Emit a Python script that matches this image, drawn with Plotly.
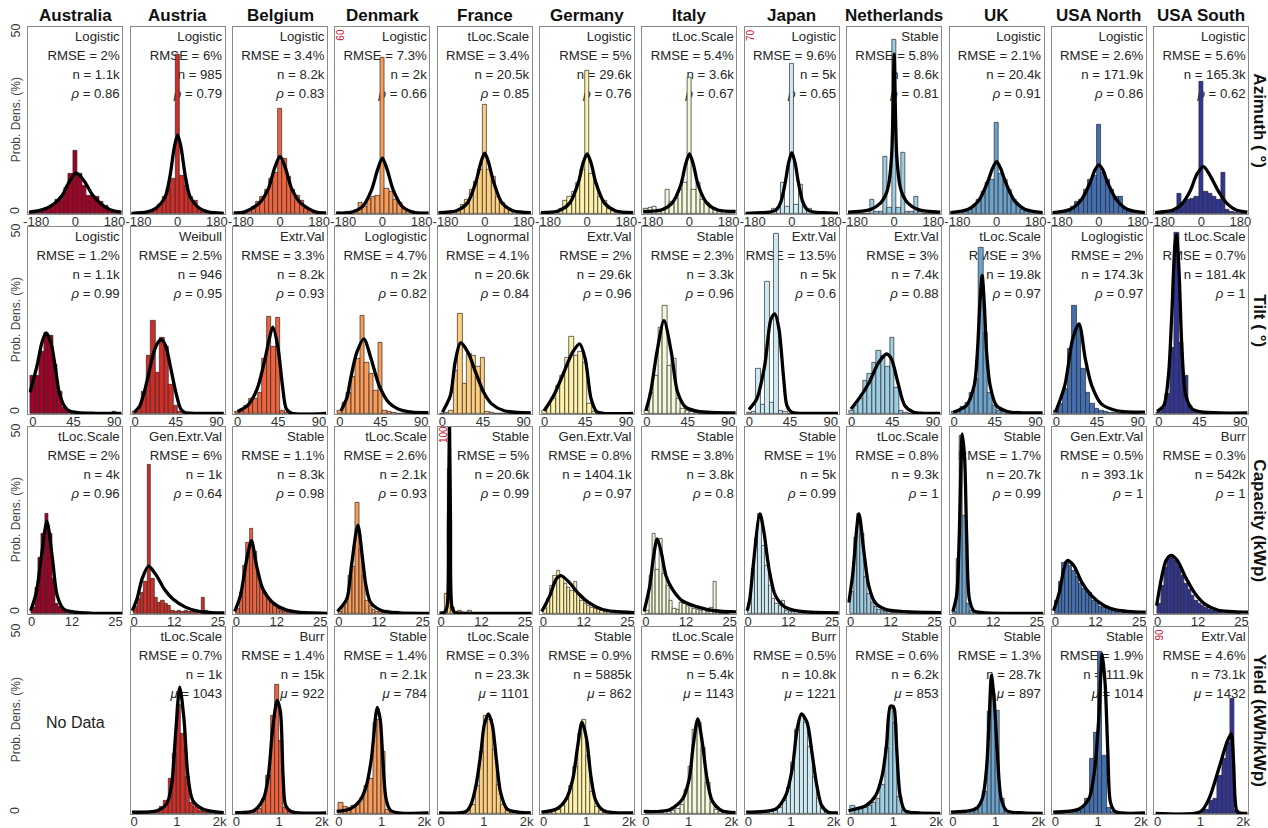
import plotly.graph_objects as go

# ---------------- data ----------------
COUNTRIES = ["Australia", "Austria", "Belgium", "Denmark", "France", "Germany",
             "Italy", "Japan", "Netherlands", "UK", "USA North", "USA South"]
COLORS = ["#A50026", "#D22C27", "#EF623E", "#FA9C59", "#FECE7F", "#FEF1AA",
          "#F1F9D9", "#CDE9F2", "#9CCDE2", "#6BA3CC", "#436FB1", "#313695"]
ROW_LABELS = ["Azimuth ( °)", "Tilt ( °)", "Capacity (kWp)", "Yield (kWh/kWp)"]

# bin centres (one list per row)
AZ_CENTERS = [-200, -180, -160, -140, -120, -100, -80, -60, -40, -20, 0, 20, 40, 60, 80, 100, 120, 140, 160, 180, 200]
TILT_CENTERS = [0, 5, 10, 15, 20, 25, 30, 35, 40, 45, 50, 55, 60, 65, 70, 75, 80, 85, 90]
CAP_CENTERS = [0.5, 1.5, 2.5, 3.5, 4.5, 5.5, 6.5, 7.5, 8.5, 9.5, 10.5, 11.5, 12.5, 13.5, 14.5,
               15.5, 16.5, 17.5, 18.5, 19.5, 20.5, 21.5, 22.5, 23.5, 24.5]
YIELD_CENTERS = [50, 150, 250, 350, 450, 550, 650, 750, 850, 950, 1050, 1150, 1250, 1350,
                 1450, 1550, 1650, 1750, 1850, 1950]

# histogram heights (%)
AZ_BARS = {
    "Australia":   [0.4, 0.5, 0.7, 0.9, 1.5, 2.5, 3.7, 4.5, 7.0, 11.0, 17.3, 11.0, 7.5, 5.0, 5.0, 4.5, 3.2, 2.0, 1.1, 0.6, 0.4],
    "Austria":     [0, 0, 0, 0.3, 0.5, 1.0, 2.5, 4.5, 7.0, 9.7, 43.8, 10.3, 7.5, 4.5, 3.5, 1.2, 0.5, 0.2, 0, 0, 0],
    "Belgium":     [0.1, 0.2, 0.4, 0.9, 1.8, 3.2, 4.6, 6.5, 9.5, 11.1, 29.0, 15.2, 10.0, 6.5, 5.0, 3.4, 1.4, 0.7, 0.4, 0.2, 0.1],
    "Denmark":     [0.2, 0.3, 0.5, 0.5, 1.0, 3.5, 2.2, 5.0, 5.5, 6.0, 51.5, 8.0, 7.2, 4.4, 3.5, 1.5, 1.0, 0.5, 0.3, 0.2, 0.1],
    "France":      [0.1, 0.2, 0.3, 0.5, 1.0, 2.3, 3.7, 6.5, 8.8, 12.0, 29.9, 12.0, 10.0, 4.5, 3.0, 1.5, 0.8, 0.4, 0.2, 0.1, 0.1],
    "Germany":     [0.1, 0.2, 0.3, 0.5, 1.2, 3.4, 4.6, 6.0, 8.5, 12.0, 39.5, 11.0, 8.3, 4.6, 3.4, 1.2, 0.6, 0.3, 0.2, 0.1, 0.1],
    "Italy":       [1.4, 1.6, 1.8, 1.0, 1.0, 6.5, 3.2, 4.0, 6.5, 8.5, 37.6, 6.5, 8.5, 3.7, 3.0, 1.6, 1.2, 0.8, 0.5, 0.3, 0.2],
    "Japan":       [0, 0, 0, 0.2, 0.3, 0.7, 1.9, 2.2, 11.9, 2.6, 58.0, 3.2, 11.0, 2.6, 1.9, 0.7, 0.3, 0.2, 0, 0, 0],
    "Netherlands": [0, 0, 0, 0, 0, 3.7, 0.3, 0.3, 15.7, 1.5, 48.0, 1.5, 16.8, 0.5, 0.3, 4.6, 0.3, 0, 0, 0, 0],
    "UK":          [0.1, 0.2, 0.4, 0.8, 1.2, 2.3, 3.7, 6.0, 8.5, 9.2, 25.1, 11.0, 9.2, 6.5, 3.7, 2.3, 1.1, 0.6, 0.3, 0.2, 0.1],
    "USA North":   [0.1, 0.2, 0.4, 0.8, 1.8, 3.2, 3.7, 6.6, 9.2, 10.3, 24.4, 11.1, 9.2, 6.6, 4.6, 4.6, 1.4, 0.6, 0.3, 0.2, 0.1],
    "USA South":   [0, 0, 0.1, 0.3, 0.6, 5.5, 2.8, 3.7, 3.9, 4.6, 36.4, 6.0, 5.3, 4.6, 3.7, 11.3, 0.9, 0.3, 0.1, 0, 0],
}
TILT_BARS = {
    "Australia":   [10.4, 10.4, 17.0, 22.4, 21.5, 13.5, 6.0, 1.5, 0.6, 0.3, 0, 0, 0, 0, 0, 0, 0, 0, 0.5],
    "Austria":     [0.5, 1.5, 6.0, 16.0, 25.6, 11.2, 20.8, 18.3, 8.0, 2.0, 0.3, 0, 0, 0, 0, 0, 0, 0, 0],
    "Belgium":     [0.3, 0.5, 2.1, 4.0, 4.0, 5.8, 15.0, 26.6, 18.3, 26.3, 0.7, 0.2, 0, 0, 0, 0, 0, 0, 0],
    "Denmark":     [0.7, 3.0, 5.8, 10.0, 15.0, 27.0, 14.1, 10.9, 6.3, 19.5, 0.7, 0.3, 0.2, 0, 0, 0, 0, 0, 0],
    "France":      [0, 0.2, 0.6, 11.8, 27.5, 8.1, 16.4, 16.0, 13.0, 15.5, 0.5, 0.2, 0, 0, 0, 0, 0, 0, 0],
    "Germany":     [0.7, 2.1, 4.0, 7.7, 10.4, 15.5, 21.3, 16.0, 17.0, 14.0, 2.6, 0.3, 0, 0, 0, 0, 0, 0, 0],
    "Italy":       [0.7, 5.8, 10.4, 23.8, 29.8, 13.2, 15.0, 4.0, 1.2, 0.7, 0.4, 0.2, 0, 0, 0, 0, 0, 0, 0],
    "Japan":       [0.2, 0.5, 12.3, 2.5, 36.4, 3.0, 49.6, 0.7, 0.3, 0, 0, 0, 0, 0, 0, 0, 0, 0, 0],
    "Netherlands": [0.7, 2.1, 4.0, 9.0, 10.9, 14.1, 17.3, 16.0, 13.0, 20.8, 7.0, 0.7, 0.2, 0, 0, 0, 0, 0, 0],
    "UK":          [0.3, 0.6, 1.7, 3.0, 5.8, 9.5, 45.7, 22.4, 5.8, 2.1, 0.7, 0.3, 0, 0, 0, 0, 0, 0, 0],
    "USA North":   [0.7, 2.6, 6.7, 17.8, 29.8, 24.3, 12.3, 5.8, 2.6, 1.2, 0.6, 0.3, 0.2, 0.1, 0, 0, 0, 0, 0],
    "USA South":   [0.2, 1.2, 5.4, 18.0, 49.9, 19.6, 10.4, 2.1, 0.5, 0.2, 0, 0, 0, 0, 0, 0, 0, 0, 0],
}
CAP_BARS = {
    "Australia":   [1.5, 7.0, 15.5, 22.0, 27.5, 22.0, 9.5, 2.6, 1.7, 0.7, 0.3, 0, 0, 0, 0, 0, 0, 0, 0, 0, 0, 0, 0, 0, 0],
    "Austria":     [1.7, 4.0, 5.8, 8.6, 41.0, 9.5, 4.4, 3.0, 3.5, 2.6, 2.1, 0.7, 0.5, 0.7, 0.5, 0.7, 0.5, 0.5, 0.4, 0.3, 4.4, 0.7, 0.2, 0, 0],
    "Belgium":     [1.2, 5.8, 13.2, 19.6, 23.5, 16.9, 10.9, 7.2, 5.8, 4.4, 3.2, 2.1, 1.2, 0.7, 0.5, 0.4, 0.3, 0.2, 0.2, 0.1, 0.1, 0.1, 0, 0, 0],
    "Denmark":     [0.5, 1.7, 3.0, 10.4, 13.0, 30.5, 17.8, 10.4, 3.5, 2.1, 1.0, 0.5, 0.3, 0.5, 0.7, 0.3, 0.2, 0.5, 0, 0, 0, 0, 0, 0, 0],
    "France":      [0.5, 11.0, 80.0, 3.0, 0.5, 1.2, 0.3, 0.3, 1.2, 0, 0, 0, 0, 0, 0, 0, 0, 0, 0, 0, 0, 0, 0, 0, 0],
    "Germany":     [1.2, 4.0, 7.7, 10.4, 11.8, 10.0, 8.1, 7.0, 6.3, 8.6, 5.4, 3.5, 2.6, 2.1, 1.5, 1.2, 0.9, 0.7, 0.5, 0.4, 0.3, 0.2, 0.2, 0.1, 0.1],
    "Italy":       [0.7, 10.4, 22.0, 12.0, 20.6, 11.0, 7.7, 3.5, 1.2, 1.0, 3.0, 2.6, 2.1, 1.7, 1.2, 0.9, 0.7, 1.0, 0.5, 1.5, 8.6, 0.7, 0, 0, 0],
    "Japan":       [2.6, 12.3, 20.6, 27.5, 18.7, 13.2, 7.7, 4.0, 2.6, 2.1, 3.5, 0.7, 0.5, 0.4, 0.3, 0.2, 0.2, 0.1, 0.1, 0, 0, 0, 0, 0, 0],
    "Netherlands": [6.0, 21.0, 27.5, 22.0, 10.0, 5.4, 3.0, 1.7, 1.0, 0.6, 0.4, 0.3, 0.2, 0.2, 0.7, 0.1, 0.1, 0, 0, 0, 0, 0, 0, 0, 0],
    "UK":          [0.5, 15.0, 49.2, 27.0, 2.6, 0.7, 0.3, 0.2, 0.1, 0.1, 0, 0, 0, 0, 0, 0, 0, 0, 0, 0, 0, 0, 0, 0, 0],
    "USA North":   [3.5, 8.6, 14.1, 14.3, 13.2, 11.8, 10.0, 8.1, 6.7, 5.8, 5.8, 3.5, 2.6, 1.9, 1.5, 1.2, 0.9, 0.7, 0.5, 0.4, 0.3, 0.2, 0.2, 0.1, 0.1],
    "USA South":   [2.6, 7.7, 12.5, 15.5, 16.0, 14.6, 12.8, 10.5, 8.3, 6.4, 4.8, 3.6, 2.7, 2.0, 1.5, 1.1, 0.8, 0.6, 0.4, 0.3, 0.2, 0.15, 0.1, 0.1, 0],
}
YIELD_BARS = {
    "Austria":     [0.5, 0.5, 0.3, 0.2, 0.3, 0.5, 1.7, 3.5, 9.5, 16.5, 30.0, 22.0, 10.0, 3.0, 1.7, 0.7, 0.3, 0.1, 0.1, 0.1],
    "Belgium":     [0.1, 0.1, 0.1, 0.1, 0.3, 1.2, 4.0, 10.4, 27.0, 35.5, 20.0, 1.5, 0.3, 0, 0, 0, 0, 0, 0, 0],
    "Denmark":     [2.9, 1.7, 1.5, 2.1, 2.5, 4.4, 7.7, 9.5, 25.0, 26.0, 16.9, 1.0, 0.3, 0, 0, 0, 0, 0, 0, 0],
    "France":      [0.1, 0.1, 0.1, 0.1, 0.1, 0.3, 0.8, 2.3, 7.5, 17.0, 27.0, 26.0, 17.5, 8.0, 2.5, 0.8, 0.2, 0.1, 0, 0],
    "Germany":     [0.2, 0.4, 0.6, 1.0, 2.0, 4.0, 7.5, 13.0, 22.0, 26.0, 16.0, 6.0, 1.8, 0.6, 0.2, 0.1, 0, 0, 0, 0],
    "Italy":       [0.7, 0.2, 0.2, 0.2, 0.3, 0.4, 0.7, 1.2, 2.5, 6.5, 13.0, 23.0, 25.0, 18.0, 8.5, 3.0, 1.0, 0.3, 0.1, 0],
    "Japan":       [0.1, 0.1, 0.1, 0.1, 0.2, 0.4, 0.8, 1.5, 3.5, 7.0, 14.0, 23.0, 27.0, 25.0, 18.5, 10.0, 4.0, 1.2, 0.3, 0.1],
    "Netherlands": [2.0, 1.0, 1.2, 1.5, 2.0, 2.8, 4.0, 8.0, 18.0, 29.0, 25.0, 4.5, 0.8, 0.3, 0.1, 0, 0, 0, 0, 0],
    "UK":          [0.3, 0.4, 0.6, 0.8, 1.0, 1.5, 2.5, 6.0, 28.0, 33.0, 28.4, 4.0, 0.8, 0.2, 0.1, 0, 0, 0, 0, 0],
    "USA North":   [0.2, 0.2, 0.2, 0.3, 0.4, 0.6, 1.5, 4.0, 15.0, 22.4, 44.6, 16.0, 1.5, 0.4, 0.2, 0.1, 0, 0, 0, 0],
    "USA South":   [0, 0, 0, 0, 0, 0, 0, 0, 0.2, 0.4, 0.8, 2.0, 6.3, 7.1, 18.7, 27.0, 35.0, 56.9, 1.3, 0],
}

# fitted curves, read as (x, %) knots
AZ_FIT = {
    "Australia":   [(-212, 0.3), (-150, 1.0), (-100, 2.5), (-60, 5.0), (-30, 8.5), (5, 11.1), (40, 9.0), (80, 5.0), (120, 2.5), (160, 1.0), (212, 0.3)],
    "Austria":     [(-212, 0), (-140, 0.4), (-100, 1.4), (-57, 4.6), (-36, 10.0), (-15, 18.4), (0, 21.7), (15, 18.4), (36, 10.0), (57, 4.6), (100, 1.4), (140, 0.4), (212, 0)],
    "Belgium":     [(-212, 0.1), (-165, 0.3), (-95, 2.8), (-53, 6.9), (-25, 12.5), (0, 15.7), (25, 12.5), (53, 6.9), (95, 2.8), (165, 0.3), (212, 0.1)],
    "Denmark":     [(-212, 0.1), (-150, 0.2), (-92, 2.2), (-50, 7.7), (-22, 14.5), (0, 18.3), (22, 14.5), (50, 7.7), (92, 2.2), (150, 0.2), (212, 0.1)],
    "France":      [(-212, 0.2), (-130, 0.7), (-80, 2.8), (-40, 8.8), (-18, 14.0), (0, 16.6), (18, 14.0), (40, 8.8), (80, 2.8), (130, 0.7), (212, 0.2)],
    "Germany":     [(-212, 0.15), (-130, 0.7), (-80, 2.8), (-40, 8.5), (-18, 14.0), (0, 16.4), (18, 14.0), (40, 8.5), (80, 2.8), (130, 0.7), (212, 0.15)],
    "Italy":       [(-212, 0.5), (-130, 0.9), (-80, 2.8), (-40, 7.8), (-18, 13.5), (0, 16.4), (18, 13.5), (40, 7.8), (80, 2.8), (130, 0.9), (212, 0.5)],
    "Japan":       [(-212, 0), (-140, 0.2), (-100, 0.5), (-70, 1.5), (-50, 4.5), (-30, 12.0), (-15, 19.5), (0, 23.5), (15, 19.5), (30, 12.0), (50, 4.5), (70, 1.5), (100, 0.5), (140, 0.2), (212, 0)],
    "Netherlands": [(-212, 0.3), (-110, 1.0), (-63, 2.8), (-40, 5.0), (-27, 7.4), (-12, 15.7), (-5, 30.0), (0, 44.0), (5, 30.0), (12, 15.7), (27, 7.4), (40, 5.0), (63, 2.8), (110, 1.0), (212, 0.3)],
    "UK":          [(-212, 0.2), (-130, 1.1), (-80, 3.7), (-40, 8.8), (-18, 12.5), (0, 14.3), (18, 12.5), (40, 8.8), (80, 3.7), (130, 1.1), (212, 0.2)],
    "USA North":   [(-212, 0.2), (-130, 1.1), (-80, 3.8), (-40, 8.5), (-18, 12.0), (0, 13.4), (18, 12.0), (40, 8.5), (80, 3.8), (130, 1.1), (212, 0.2)],
    "USA South":   [(-212, 0.2), (-130, 0.9), (-90, 2.5), (-50, 6.3), (-20, 10.8), (10, 12.9), (40, 10.5), (80, 6.0), (120, 2.6), (160, 0.9), (212, 0.3)],
}
TILT_FIT = {
    "Australia":   [(-3, 5.8), (5, 13.5), (10, 19.5), (14.6, 22.2), (20, 19.5), (25, 12.5), (29, 6.0), (35, 2.0), (40, 0.7), (50, 0.15), (70, 0), (98, 0)],
    "Austria":     [(-1, 0.3), (5, 2.0), (10, 5.8), (15, 11.0), (20.6, 16.9), (25, 19.5), (29.3, 20.4), (34, 18.5), (38, 14.1), (45, 5.8), (50.4, 1.2), (55, 0.2), (65, 0), (98, 0)],
    "Belgium":     [(0, 0.5), (11, 2.1), (21.6, 6.7), (30.4, 15.0), (35, 20.5), (39, 23.8), (44.4, 18.7), (49.7, 7.7), (54, 1.2), (60, 0), (98, 0)],
    "Denmark":     [(1.3, 0.7), (8, 4.5), (11.8, 9.5), (18.8, 16.9), (26.5, 20.6), (34.6, 15.0), (43.4, 7.7), (53.9, 3.0), (64.4, 1.2), (80, 0.3), (98, 0.2)],
    "France":      [(0.2, 0.3), (9, 4.9), (14.2, 14.1), (20.2, 19.5), (28.3, 16.9), (37, 11.3), (45.8, 5.8), (54.6, 2.6), (68.6, 0.7), (98, 0.1)],
    "Germany":     [(-0.5, 0.7), (10, 4.9), (20.6, 10.9), (31, 16.9), (38.8, 19.2), (45, 15.0), (51.4, 4.0), (57.4, 0.5), (65, 0), (98, 0)],
    "Italy":       [(-1.2, 0.7), (4, 5.8), (11, 16.9), (18.8, 25.6), (26.9, 16.9), (33.9, 5.8), (42.7, 1.7), (56.7, 0.5), (98, 0.1)],
    "Japan":       [(-0.5, 1.0), (8.3, 4.0), (17, 13.2), (24, 26.1), (28.3, 27.5), (32.8, 23.3), (38, 9.5), (41.6, 2.1), (46.9, 0.3), (55, 0), (98, 0)],
    "Netherlands": [(-0.8, 1.2), (9, 4.4), (19.5, 8.6), (30, 14.1), (38.8, 16.4), (44, 15.0), (51, 8.6), (58.8, 2.1), (68.6, 0.3), (80, 0), (98, 0)],
    "UK":          [(-1, 0.3), (13.5, 2.1), (22.3, 7.7), (25.8, 16.9), (28.5, 30.0), (31.1, 38.1), (33.5, 30.0), (36, 16.9), (39.9, 7.7), (46.9, 2.1), (59, 0.5), (80, 0.1), (98, 0.1)],
    "USA North":   [(-1, 0.3), (9.3, 7.7), (18, 20.6), (25, 24.7), (32, 15.0), (39, 7.7), (49.7, 2.6), (67, 0.7), (98, 0.3)],
    "USA South":   [(-2, 0.5), (5.5, 2.1), (10.7, 10.4), (14.2, 26.1), (17.8, 46.4), (19.5, 49.4), (22.3, 40.0), (25.8, 16.9), (30, 4.9), (37, 1.2), (50, 0.3), (98, 0.1)],
}
CAP_FIT = {
    "Australia":   [(-0.3, 0.7), (1.4, 5.8), (2.8, 15.0), (4.55, 25.4), (6.2, 15.0), (7.6, 4.9), (9.5, 1.2), (12.9, 0.3), (18, 0), (27, 0)],
    "Austria":     [(-0.5, 0.7), (0.9, 4.0), (2.4, 9.5), (4.3, 13.0), (6.7, 10.4), (9, 6.7), (11.5, 4.0), (15.3, 1.7), (19, 0.6), (23, 0.2), (27, 0.1)],
    "Belgium":     [(-0.5, 0.5), (1.2, 4.9), (3.1, 15.0), (4.5, 20.1), (6, 13.2), (7.9, 6.7), (10.8, 3.0), (14.6, 1.0), (18.4, 0.3), (27, 0)],
    "Denmark":     [(-0.4, 0.5), (2.4, 4.0), (3.8, 13.2), (5.7, 24.4), (7.1, 15.0), (8.1, 7.7), (9.5, 3.0), (12.9, 0.7), (18, 0.1), (27, 0)],
    "France":      [(-0.5, 0.1), (1.0, 0.5), (1.8, 4.0), (2.2, 50.0), (2.5, 106.0), (2.8, 50.0), (3.2, 4.0), (4, 0.5), (6, 0.1), (27, 0)],
    "Germany":     [(-0.5, 0.5), (1.9, 4.9), (3.8, 9.5), (5.2, 10.4), (7.6, 8.6), (10.5, 5.4), (13.4, 3.0), (17.2, 1.2), (21, 0.5), (27, 0.2)],
    "Italy":       [(-0.5, 0.5), (1.2, 7.7), (2.2, 15.0), (3.4, 20.6), (4.6, 16.9), (6, 10.4), (7.9, 6.7), (10.8, 3.5), (15.6, 1.7), (20.4, 0.7), (27, 0.4)],
    "Japan":       [(-0.3, 0.7), (0.5, 4.0), (1.4, 12.3), (3.5, 27.5), (4.7, 22.4), (6.2, 12.3), (8.1, 4.9), (11, 1.7), (15.8, 0.5), (27, 0.1)],
    "Netherlands": [(-0.5, 3.0), (0.6, 10.4), (2.5, 27.5), (4, 16.9), (5.4, 7.7), (7.3, 3.0), (10.2, 1.2), (15, 0.5), (27, 0.2)],
    "UK":          [(0, 0.5), (1.1, 4.9), (1.9, 21.5), (2.5, 44.6), (2.8, 49.6), (3.5, 42.7), (4.1, 21.5), (4.9, 4.0), (6.2, 0.7), (9, 0.2), (27, 0)],
    "USA North":   [(-0.5, 0.7), (1.2, 5.8), (2.6, 12.3), (3.6, 14.6), (5.5, 13.2), (7.9, 8.6), (10.8, 4.9), (14.6, 2.1), (18.4, 0.9), (27, 0.3)],
    "USA South":   [(-0.3, 2.1), (1.1, 9.5), (2.5, 14.6), (4, 16.0), (5.9, 14.6), (8.3, 10.0), (11.2, 5.4), (14, 2.6), (17.9, 0.9), (27, 0.3)],
}
YIELD_FIT = {
    "Austria":     [(-50, 0.3), (533, 0.7), (762, 2.6), (877, 7.7), (969, 21.5), (1069, 34.9), (1168, 26.0), (1260, 10.4), (1375, 3.5), (1605, 1.2), (1987, 0.3), (2100, 0.2)],
    "Belgium":     [(-30, 0.2), (402, 0.7), (632, 4.0), (747, 10.4), (847, 23.3), (954, 31.2), (1030, 28.0), (1091, 10.4), (1153, 2.1), (1283, 0.5), (2100, 0.1)],
    "Denmark":     [(-50, 0.5), (265, 1.2), (494, 3.5), (647, 7.7), (762, 15.0), (900, 29.3), (969, 26.0), (1030, 15.0), (1107, 4.0), (1222, 0.7), (2100, 0.1)],
    "France":      [(-50, 0.1), (586, 0.5), (700, 2.5), (816, 7.7), (931, 16.9), (1007, 24.3), (1107, 27.5), (1199, 24.3), (1291, 15.0), (1390, 5.8), (1543, 1.2), (1811, 0.3), (2100, 0.1)],
    "Germany":     [(-50, 0.3), (303, 1.2), (533, 4.0), (686, 9.5), (801, 18.7), (900, 25.2), (1007, 20.6), (1107, 10.4), (1222, 3.5), (1413, 0.7), (2100, 0.1)],
    "Italy":       [(-50, 0.5), (556, 1.0), (862, 4.0), (1015, 9.5), (1107, 18.7), (1214, 26.1), (1321, 19.6), (1421, 10.4), (1551, 3.5), (1781, 0.7), (2100, 0.2)],
    "Japan":       [(-50, 0.3), (647, 1.2), (877, 4.9), (1030, 12.3), (1145, 23.3), (1245, 27.5), (1375, 25.2), (1490, 16.9), (1605, 7.7), (1720, 2.1), (1873, 0.3), (2100, 0.1)],
    "Netherlands": [(-50, 0.7), (127, 1.2), (356, 2.1), (586, 4.9), (739, 10.4), (839, 18.7), (931, 29.6), (1000, 29.5), (1030, 28.4), (1084, 16.9), (1160, 4.9), (1275, 0.7), (1600, 0.1), (2100, 0)],
    "UK":          [(-50, 0.3), (533, 1.2), (686, 4.0), (785, 12.3), (854, 28.0), (900, 38.1), (969, 30.7), (1038, 16.9), (1130, 4.0), (1260, 0.7), (1650, 0.1), (2100, 0)],
    "USA North":   [(-50, 0.3), (556, 1.2), (785, 4.0), (923, 12.3), (1015, 26.0), (1099, 44.1), (1168, 35.4), (1229, 16.9), (1291, 3.0), (1398, 0.5), (2100, 0.1)],
    "USA South":   [(-50, 0), (1000, 0.8), (1199, 7.1), (1428, 22.0), (1620, 35.3), (1719, 39.5), (1773, 27.0), (1811, 7.1), (1849, 1.3), (1900, 0.2), (2100, 0)],
}

# statistics printed in each panel
AZ_FIT_NAME = ["Logistic", "Logistic", "Logistic", "Logistic", "tLoc.Scale", "Logistic", "tLoc.Scale", "Logistic", "Stable", "Logistic", "Logistic", "Logistic"]
AZ_RMSE = ["2%", "6%", "3.4%", "7.3%", "3.4%", "5%", "5.4%", "9.6%", "5.8%", "2.1%", "2.6%", "5.6%"]
AZ_N = ["1.1k", "985", "8.2k", "2k", "20.5k", "29.6k", "3.6k", "5k", "8.6k", "20.4k", "171.9k", "165.3k"]
AZ_RHO = ["0.86", "0.79", "0.83", "0.66", "0.85", "0.76", "0.67", "0.65", "0.81", "0.91", "0.86", "0.62"]

TILT_FIT_NAME = ["Logistic", "Weibull", "Extr.Val", "Loglogistic", "Lognormal", "Extr.Val", "Stable", "Extr.Val", "Extr.Val", "tLoc.Scale", "Loglogistic", "tLoc.Scale"]
TILT_RMSE = ["1.2%", "2.5%", "3.3%", "4.7%", "4.1%", "2%", "2.3%", "13.5%", "3%", "3%", "2%", "0.7%"]
TILT_N = ["1.1k", "946", "8.2k", "2k", "20.6k", "29.6k", "3.3k", "5k", "7.4k", "19.8k", "174.3k", "181.4k"]
TILT_RHO = ["0.99", "0.95", "0.93", "0.82", "0.84", "0.96", "0.96", "0.6", "0.88", "0.97", "0.97", "1"]

CAP_FIT_NAME = ["tLoc.Scale", "Gen.Extr.Val", "Stable", "tLoc.Scale", "Stable", "Gen.Extr.Val", "Stable", "Stable", "tLoc.Scale", "Stable", "Gen.Extr.Val", "Burr"]
CAP_RMSE = ["2%", "6%", "1.1%", "2.6%", "5%", "0.8%", "3.8%", "1%", "0.8%", "1.7%", "0.5%", "0.3%"]
CAP_N = ["4k", "1k", "8.3k", "2.1k", "20.6k", "1404.1k", "3.8k", "5k", "9.3k", "20.7k", "393.1k", "542k"]
CAP_RHO = ["0.96", "0.64", "0.98", "0.93", "0.99", "0.97", "0.8", "0.99", "1", "0.99", "1", "1"]

YIELD_FIT_NAME = [None, "tLoc.Scale", "Burr", "Stable", "tLoc.Scale", "Stable", "tLoc.Scale", "Burr", "Stable", "Stable", "Stable", "Extr.Val"]
YIELD_RMSE = [None, "0.7%", "1.4%", "1.4%", "0.3%", "0.9%", "0.6%", "0.5%", "0.6%", "1.3%", "1.9%", "4.6%"]
YIELD_N = [None, "1k", "15k", "2.1k", "23.3k", "5885k", "5.4k", "10.8k", "6.2k", "28.7k", "111.9k", "73.1k"]
YIELD_MU = [None, "1043", "922", "784", "1101", "862", "1143", "1221", "853", "897", "1014", "1432"]

# panels whose y axis is stretched beyond 50 %
Y_MAX = {(0, "Denmark"): 60, (0, "Japan"): 70, (2, "France"): 100, (3, "USA South"): 90}

# ---------------- layout constants (page pixels) ----------------
W, H = 1268, 828
X0, XP, PW = 28.3, 102.36, 94.0
Y0, YP, PH = 26.7, 200.0, 187.3
FONT = "Arial, Liberation Sans, sans-serif"
NP = 48  # number of panels


def px(xp):
    return xp / W


def py(yp):
    return 1 - yp / H


ROWS = [
    dict(bars=AZ_BARS, fit=AZ_FIT, centers=AZ_CENTERS, bw=20, rng=[-216, 216],
         tv=[-180, 0, 180], tt=["-180", "0", "180"], names=AZ_FIT_NAME, rmse=AZ_RMSE, n=AZ_N, st=AZ_RHO, sym="ρ"),
    dict(bars=TILT_BARS, fit=TILT_FIT, centers=TILT_CENTERS, bw=5, rng=[-5, 99],
         tv=[0, 45, 90], tt=["0", "45", "90"], names=TILT_FIT_NAME, rmse=TILT_RMSE, n=TILT_N, st=TILT_RHO, sym="ρ"),
    dict(bars=CAP_BARS, fit=CAP_FIT, centers=CAP_CENTERS, bw=1, rng=[-1, 27],
         tv=[0, 12, 25], tt=["0", "12", "25"], names=CAP_FIT_NAME, rmse=CAP_RMSE, n=CAP_N, st=CAP_RHO, sym="ρ"),
    dict(bars=YIELD_BARS, fit=YIELD_FIT, centers=YIELD_CENTERS, bw=100, rng=[-80, 2120],
         tv=[0, 1000, 2000], tt=["0", "1", "2k"], names=YIELD_FIT_NAME, rmse=YIELD_RMSE, n=YIELD_N, st=YIELD_MU, sym="μ"),
]

fig = go.Figure()
layout = {}
ann = []
LINE_OFF = [11.3, 29.7, 49.0, 68.2]

for r, row in enumerate(ROWS):
    ytop = Y0 + r * YP
    for c, country in enumerate(COUNTRIES):
        idx = r * 12 + c + 1
        b = "" if idx == 1 else str(idx)      # base subplot: panel text (drawn first)
        o = str(idx + NP)                      # overlay subplot: bars + fitted curve
        xl = X0 + c * XP
        ymax = Y_MAX.get((r, country), 50)
        k = ymax / 50.0
        layout["xaxis" + b] = dict(domain=[px(xl), px(xl + PW)], anchor="y" + b, range=[0, 1],
                                   visible=False, automargin=False, fixedrange=True)
        layout["yaxis" + b] = dict(domain=[py(ytop + PH), py(ytop)], anchor="x" + b, range=[0, 1],
                                   visible=False, automargin=False, fixedrange=True)
        layout["xaxis" + o] = dict(
            overlaying="x" + b, anchor="y" + o, range=row["rng"],
            automargin=False, showgrid=False, zeroline=False, showline=True, mirror=True,
            linecolor="#8a8a8a", linewidth=1.4, ticks="", ticklabelstandoff=-5,
            tickvals=row["tv"], ticktext=row["tt"],
            tickfont=dict(size=13, color="#333333", family=FONT))
        layout["yaxis" + o] = dict(
            overlaying="y" + b, anchor="x" + o,
            range=[-0.2 * k, 51.6 * k], automargin=False, showgrid=False, zeroline=False,
            showline=True, mirror=True, linecolor="#8a8a8a", linewidth=1.4,
            showticklabels=False, ticks="")

        if country in row["bars"]:
            lines = [row["names"][c], "RMSE = " + row["rmse"][c], "n = " + row["n"][c],
                     "<i>" + row["sym"] + "</i> = " + row["st"][c]]
            xd = (PW - 2.6) / PW
            fig.add_trace(go.Scatter(
                x=[xd] * 4, y=[1 - v / PH for v in LINE_OFF], mode="text", text=lines,
                textposition="middle left", cliponaxis=False,
                textfont=dict(size=13.2, color="#262626", family=FONT),
                xaxis="x" + b, yaxis="y" + b, showlegend=False, hoverinfo="skip"))
            fig.add_trace(go.Bar(
                x=row["centers"], y=row["bars"][country], width=row["bw"],
                marker=dict(color=COLORS[c], line=dict(color="#2b2b2b", width=0.7)),
                xaxis="x" + o, yaxis="y" + o, showlegend=False, hoverinfo="skip"))
            fx = [p[0] for p in row["fit"][country]]
            fy = [p[1] for p in row["fit"][country]]
            fig.add_trace(go.Scatter(
                x=fx, y=fy, mode="lines",
                line=dict(color="black", width=3.3, shape="spline", smoothing=0.8),
                xaxis="x" + o, yaxis="y" + o, showlegend=False, hoverinfo="skip"))
        else:
            ann.append(dict(x=px(xl + PW / 2), y=py(ytop + 96), xref="paper", yref="paper",
                            text="No Data", showarrow=False, xanchor="center", yanchor="middle",
                            font=dict(size=16, color="#222222", family=FONT)))

        if ymax != 50:
            ann.append(dict(x=px(xl + 5.6), y=py(ytop + 8), xref="paper", yref="paper",
                            text=str(ymax), showarrow=False, textangle=-90,
                            xanchor="center", yanchor="middle",
                            font=dict(size=10, color="#c8102e", family=FONT)))

        if r == 0:
            ann.append(dict(x=px(xl + PW / 2), y=py(15.5), xref="paper", yref="paper",
                            text="<b>" + country + "</b>", showarrow=False,
                            xanchor="center", yanchor="middle",
                            font=dict(size=17, color="#111111", family=FONT)))

    # left: y label and y tick labels
    ann.append(dict(x=px(16), y=py(ytop + PH / 2), xref="paper", yref="paper",
                    text="Prob. Dens. (%)", showarrow=False, textangle=-90,
                    xanchor="center", yanchor="middle",
                    font=dict(size=12, color="#444444", family=FONT)))
    for lab, off in (("50", 3.8), ("0", 184.2)):
        ann.append(dict(x=px(15), y=py(ytop + off), xref="paper", yref="paper",
                        text=lab, showarrow=False, textangle=-90,
                        xanchor="center", yanchor="middle",
                        font=dict(size=12.5, color="#333333", family=FONT)))
    # right: row label
    ann.append(dict(x=px(1260), y=py(ytop + PH / 2), xref="paper", yref="paper",
                    text="<b>" + ROW_LABELS[r] + "</b>", showarrow=False, textangle=90,
                    xanchor="center", yanchor="middle",
                    font=dict(size=17, color="#111111", family=FONT)))

fig.update_layout(**layout)
fig.update_layout(
    template="none",
    width=W, height=H, margin=dict(l=0, r=0, t=0, b=0, pad=0),
    paper_bgcolor="white", plot_bgcolor="white", showlegend=False,
    bargap=0, annotations=ann, font=dict(family=FONT))

# the page body keeps no margin, so the 1268 x 828 figure fills the window exactly
fig.write_html("out.html",
               config={"displayModeBar": False},
               post_script="document.body.style.margin='0px';document.body.style.overflow='hidden';")
